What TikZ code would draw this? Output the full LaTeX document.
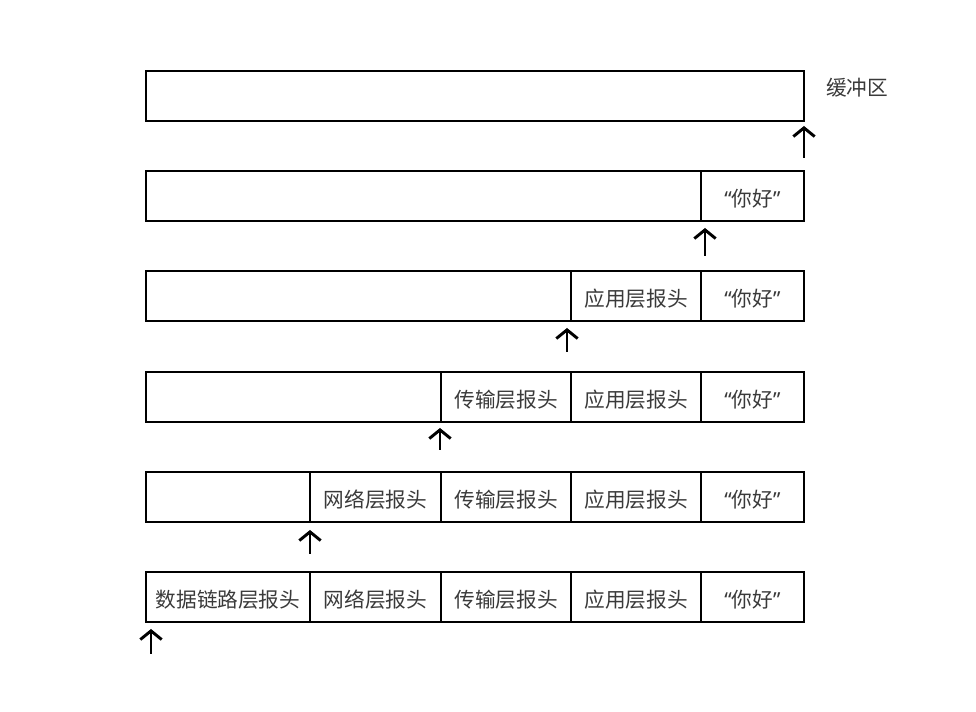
\documentclass[tikz,border=0pt]{standalone}
\usepackage{fontspec}
\setmainfont{Noto Sans CJK SC}
\newfontfamily\qf{Noto Sans}
\usetikzlibrary{arrows.meta}
\definecolor{txt}{HTML}{3A3A3A}
\tikzset{
  cellbox/.style={draw=black, line width=2.2pt, rectangle, inner sep=0pt,
    minimum height=37.5pt, text=txt, font=\fontsize{15.5pt}{18pt}\selectfont},
  ptr/.style={line width=2.2pt, -{Straight Barb[length=6.5pt,width=16pt,line width=2.2pt]}},
  lbl/.style={text=txt, font=\fontsize{15.5pt}{18pt}\selectfont, inner sep=0pt}
}
\newcommand\mycell[5]{\node[cellbox, minimum width={(#3-#2)*0.75pt}] (#1) at ({(#2+#3)/2},{#4+25}) {\raisebox{-8pt}[0pt][0pt]{#5}};}
\newcommand\nihao{{\qf “}你好{\qf ”}}
\begin{document}
\begin{tikzpicture}[x=0.75pt,y=-0.75pt]
\useasboundingbox (0,0) rectangle (976,712);
% row 1
\mycell{r1a}{146}{804}{71}{}
\node[lbl, anchor=west] (buf) at (826,88) {缓冲区};
% row 2
\mycell{r2a}{146}{701}{171}{}
\mycell{r2b}{701}{804}{171}{\nihao}
% row 3
\mycell{r3a}{146}{571}{271}{}
\mycell{r3b}{571}{701}{271}{应用层报头}
\mycell{r3c}{701}{804}{271}{\nihao}
% row 4
\mycell{r4a}{146}{441}{372}{}
\mycell{r4b}{441}{571}{372}{传输层报头}
\mycell{r4c}{571}{701}{372}{应用层报头}
\mycell{r4d}{701}{804}{372}{\nihao}
% row 5
\mycell{r5a}{146}{310}{472}{}
\mycell{r5b}{310}{441}{472}{网络层报头}
\mycell{r5c}{441}{571}{472}{传输层报头}
\mycell{r5d}{571}{701}{472}{应用层报头}
\mycell{r5e}{701}{804}{472}{\nihao}
% row 6
\mycell{r6a}{146}{310}{572}{数据链路层报头}
\mycell{r6b}{310}{441}{572}{网络层报头}
\mycell{r6c}{441}{571}{572}{传输层报头}
\mycell{r6d}{571}{701}{572}{应用层报头}
\mycell{r6e}{701}{804}{572}{\nihao}
% pointers
\coordinate (p1s) at (804,158); \coordinate (p1e) at (804,126);
\coordinate (p2s) at (705,256); \coordinate (p2e) at (705,228);
\coordinate (p3s) at (567,352); \coordinate (p3e) at (567,328);
\coordinate (p4s) at (440,450); \coordinate (p4e) at (440,428);
\coordinate (p5s) at (310,554); \coordinate (p5e) at (310,530);
\coordinate (p6s) at (151,654); \coordinate (p6e) at (151,629);
\foreach \i in {1,...,6} \draw[ptr] (p\i s) -- (p\i e);
\end{tikzpicture}
\end{document}
